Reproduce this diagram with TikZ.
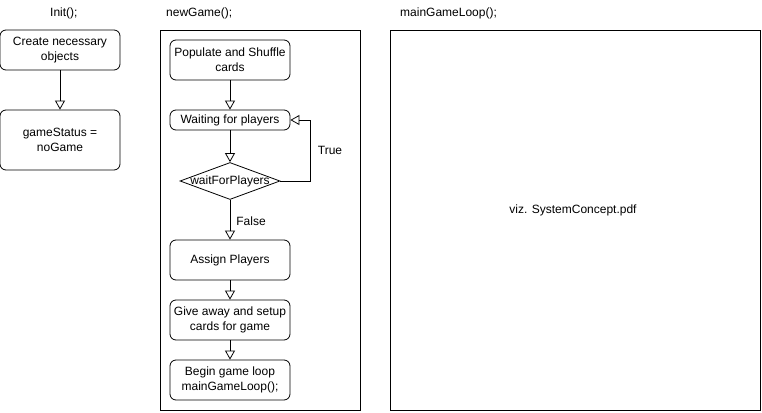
\documentclass[tikz,border=0pt]{standalone}
\usepackage{fontspec}
\setmainfont{Liberation Sans}
\usepackage{tikz}
\usetikzlibrary{arrows.meta, positioning, shapes.geometric}
\tikzset{
  stepbox/.style={draw=black, fill=white, rounded corners=6pt,
                  minimum width=120pt, inner sep=0pt,
                  align=center, line width=0.8pt},
  decision/.style={draw=black, fill=white, diamond, inner sep=0pt,
                   minimum width=100pt, minimum height=37pt, line width=0.8pt},
  frame/.style={draw=black, line width=0.8pt, inner sep=0pt},
  title/.style={anchor=west, inner sep=0pt},
  flow/.style={-{Triangle[open, length=9pt, width=10pt]}, line width=0.8pt},
}

\begin{document}
\begin{tikzpicture}[x=1pt, y=-1pt, font=\fontsize{12}{15}\selectfont]

  \useasboundingbox (0,0) rectangle (762,412);

  % titles
  \node[title] (tinit) at (50,13) {Init();};
  \node[title] (tnew)  at (166,13) {newGame();};
  \node[title] (tmain) at (400,13) {mainGameLoop();};

  % Init();
  \node[stepbox, minimum height=40pt] (create) at (60,50) {Create necessary\\objects};
  \node[stepbox, minimum height=60pt] (status) at (60,140) {gameStatus =\\noGame};
  \draw[flow] (create) -- (status);

  % newGame();
  \node[frame, minimum width=200pt, minimum height=380pt] (newframe) at (260,220) {};
  \node[stepbox, minimum height=40pt] (populate) at (230,60) {Populate and Shuffle\\cards};
  \node[stepbox, minimum height=20pt] (waiting) at (230,120) {Waiting for players};
  \node[decision, label={center:waitForPlayers}] (dec) at (230,181) {};
  \node[stepbox, minimum height=40pt] (assign) at (230,260) {Assign Players};
  \node[stepbox, minimum height=40pt] (giveaway) at (230,320) {Give away and setup\\cards for game};
  \node[stepbox, minimum height=40pt] (begin) at (230,380) {Begin game loop\\mainGameLoop();};

  \draw[flow] (populate) -- (waiting);
  \draw[flow] (waiting) -- (dec);
  \draw[flow] (dec.east) -- ++(30,0) |- (waiting.east);
  \draw[flow] (dec) -- (assign);
  \draw[flow] (assign) -- (giveaway);
  \draw[flow] (giveaway) -- (begin);

  \node (ltrue)  at (330,150) {True};
  \node (lfalse) at (251,221) {False};

  % mainGameLoop();
  \node[frame, minimum width=370pt, minimum height=380pt] (mainframe) at (575,220) {};
  \node (viz) at (573,210) {viz. SystemConcept.pdf};

\end{tikzpicture}
\end{document}
